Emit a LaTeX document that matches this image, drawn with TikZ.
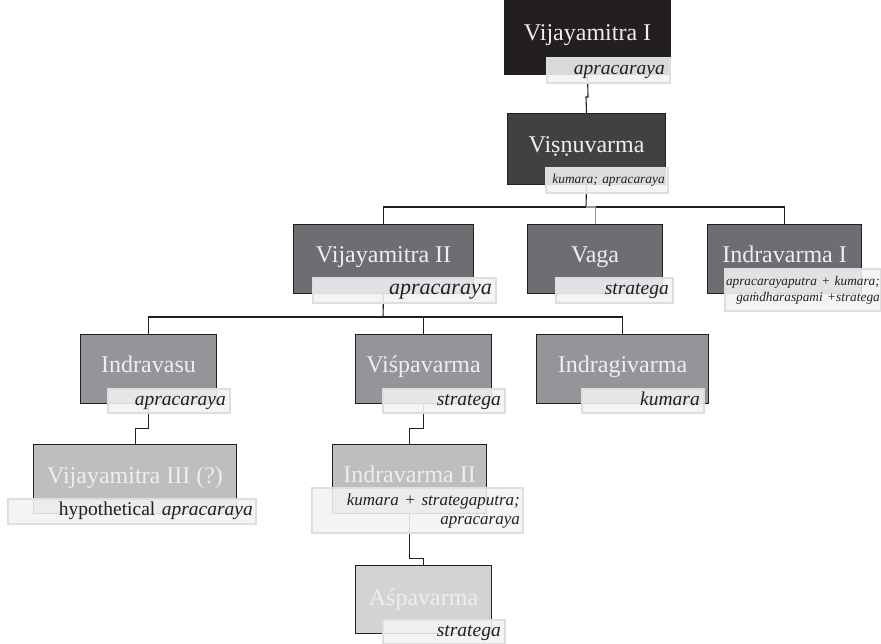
\documentclass[tikz,border=0pt]{standalone}
\usepackage{fontspec}
\setmainfont{Liberation Serif}
\usetikzlibrary{calc}
\definecolor{cA}{HTML}{231F20}
\definecolor{cB}{HTML}{414042}
\definecolor{cC}{HTML}{6D6E71}
\definecolor{cD}{HTML}{939598}
\definecolor{cE}{HTML}{BCBEC0}
\definecolor{cF}{HTML}{D1D3D4}
\definecolor{nameC}{HTML}{EEEEEF}
\definecolor{lblFill}{HTML}{F3F3F4}
\definecolor{lblDraw}{HTML}{DDDEDF}
\definecolor{ink}{HTML}{231F20}
\tikzset{
 fam/.style={draw=ink, line width=1.1pt, anchor=north west, inner sep=0pt},
 nm/.style={anchor=base, text=nameC, font=\fontsize{24}{28}\selectfont, inner sep=0pt},
 lbl/.style={draw=lblDraw, line width=1.6pt, fill=lblFill, fill opacity=0.88, text opacity=1,
   anchor=north west, inner xsep=5pt, inner ysep=0pt, align=right, text=ink,
   font=\fontsize{19.5}{22}\selectfont\itshape, execute at begin node=\strut},
 link/.style={draw=ink, line width=1.1pt},
 glink/.style={draw=cD, line width=1.1pt},
}
\begin{document}
\begin{tikzpicture}[x=1pt,y=-1pt]
\useasboundingbox (0,0) rectangle (881,644);
% boxes
\node[fam, fill=cA, minimum width=166pt, minimum height=74pt] (n1) at (504,0) {};
\node[fam, fill=cB, minimum width=158pt, minimum height=71pt] (n2) at (507,113) {};
\node[fam, fill=cC, minimum width=180pt, minimum height=69pt] (n3) at (293,224) {};
\node[fam, fill=cC, minimum width=135pt, minimum height=69pt] (n4) at (527,224) {};
\node[fam, fill=cC, minimum width=154pt, minimum height=69pt] (n5) at (707,224) {};
\node[fam, fill=cD, minimum width=136pt, minimum height=69pt] (n6) at (80,334) {};
\node[fam, fill=cD, minimum width=136pt, minimum height=69pt] (n7) at (355,334) {};
\node[fam, fill=cD, minimum width=172pt, minimum height=69pt] (n8) at (536,334) {};
\node[fam, fill=cE, minimum width=203pt, minimum height=69pt] (n9) at (33,444) {};
\node[fam, fill=cE, minimum width=154pt, minimum height=69pt] (n10) at (332,444) {};
\node[fam, fill=cF, minimum width=136pt, minimum height=68pt] (n11) at (355,565) {};
% names
\node[nm] (t1) at ([yshift=-41pt]n1.north) {Vijayamitra I};
\node[nm] (t2) at ([yshift=-40pt]n2.north) {Viṣṇuvarma};
\node[nm] (t3) at ([yshift=-39pt]n3.north) {Vijayamitra II};
\node[nm] (t4) at ([yshift=-39pt]n4.north) {Vaga};
\node[nm] (t5) at ([yshift=-39pt]n5.north) {Indravarma I};
\node[nm] (t6) at ([yshift=-39pt]n6.north) {Indravasu};
\node[nm] (t7) at ([yshift=-39pt]n7.north) {Viśpavarma};
\node[nm] (t8) at ([yshift=-39pt]n8.north) {Indragivarma};
\node[nm] (t9) at ([yshift=-39pt]n9.north) {Vijayamitra III (?)};
\node[nm] (t10) at ([yshift=-38pt]n10.north) {Indravarma II};
\node[nm] (t11) at ([yshift=-40pt]n11.north) {Aśpavarma};
% connectors
\coordinate (b1) at (586,207);
\coordinate (b2) at (383,317);
\draw[link] (n1.south) -- (588,97) -- (586,97) -- (n2.north);
\draw[link] (n2.south) -- (b1);
\draw[link] (n3.north) |- (b1) -| (n5.north);
\draw[glink] (b1) -| (n4.north);
\draw[link] (n3.south) -- (b2);
\draw[link] (n6.north) |- (b2) -| (n8.north);
\draw[link] (b2) -| (n7.north);
\draw[link] (n6.south) -- ++(0,24) -| (n9.north);
\draw[link] (n7.south) -- ++(0,24) -| (n10.north);
\draw[link] (n10.south) -- ++(0,44) -| (n11.north);
% labels
\node[lbl, minimum width=123pt, minimum height=25pt, text width=113pt] (l1) at (546,57) {apracaraya};
\node[lbl, minimum width=122pt, minimum height=25pt, text width=116pt, inner xsep=3pt,
  font=\fontsize{13.4}{16}\selectfont\itshape] (l2) at (545,167) {kumara; apracaraya};
\node[lbl, minimum width=183pt, minimum height=25pt, text width=175pt, inner xsep=4pt,
  font=\fontsize{22}{23}\selectfont\itshape] (l3) at (312,277) {apracaraya};
\node[lbl, minimum width=117pt, minimum height=25pt, text width=109pt, inner xsep=4pt] (l4) at (555,277) {stratega};
\node[lbl, minimum width=156pt, minimum height=42pt, text width=154pt, inner xsep=1pt, inner ysep=3pt,
  font=\fontsize{13.3}{16}\selectfont\itshape] (l5) at (724,268) {\mbox{apracarayaputra + kumara;}\\ \mbox{gaṁdharaspami +stratega}};
\node[lbl, minimum width=122pt, minimum height=24pt, text width=114pt, inner xsep=4pt] (l6) at (107,388) {apracaraya};
\node[lbl, minimum width=122pt, minimum height=24pt, text width=114pt, inner xsep=4pt] (l7) at (382,388) {stratega};
\node[lbl, minimum width=122pt, minimum height=24pt, text width=114pt, inner xsep=4pt] (l8) at (581,388) {kumara};
\node[lbl, minimum width=248pt, minimum height=25pt, text width=242pt, inner xsep=3pt] (l9) at (7,498) {{\upshape hypothetical} apracaraya};
\node[lbl, minimum width=211pt, minimum height=45pt, text width=205pt, inner xsep=3pt, inner ysep=3pt,
  font=\fontsize{17}{19}\selectfont\itshape] (l10) at (311,487) {kumara + strategaputra;\\ apracaraya};
\node[lbl, minimum width=122pt, minimum height=24pt, text width=114pt, inner xsep=4pt] (l11) at (382,619) {stratega};
\end{tikzpicture}
\end{document}
